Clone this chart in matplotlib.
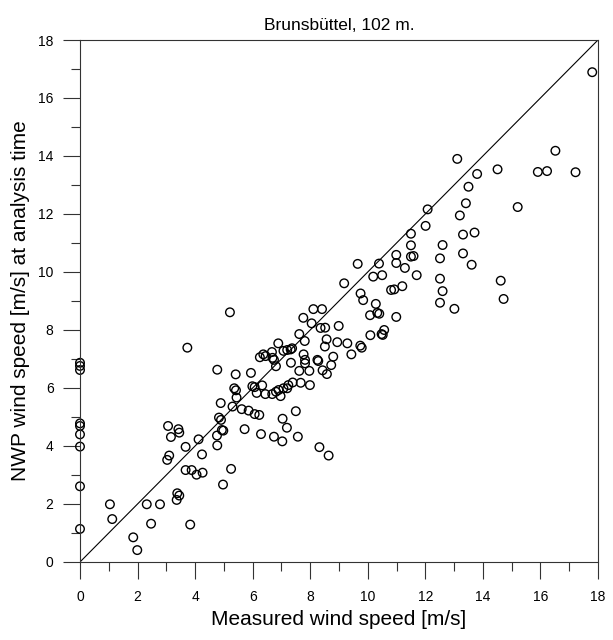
import matplotlib
matplotlib.use("Agg")
import matplotlib.pyplot as plt
from matplotlib.ticker import MultipleLocator

plt.rcParams['font.family'] = ['Liberation Sans', 'DejaVu Sans']

title = "Brunsbüttel, 102 m."
xlabel = "Measured wind speed [m/s]"
ylabel = "NWP wind speed [m/s] at analysis time"

measured = [
    0, 0, 0, 0, 0, 0, 0, 0, 0,
    1.04, 1.12, 1.85, 1.99, 2.32, 2.47, 2.78,
    3.73, 3.06, 3.16, 3.42, 3.45, 3.67, 4.12, 4.24,
    3.10, 3.03, 3.67, 3.88, 4.05, 4.26, 3.38, 3.45, 3.36, 3.83, 4.97, 4.77, 4.76, 4.93, 4.98, 4.83, 4.90, 4.89, 5.25,
    4.77, 5.21,
    5.41, 5.94, 5.36, 5.42, 5.44, 5.30,
    6.33, 5.99, 6.07,
    6.14, 6.44, 6.68, 6.81, 6.90, 6.97, 7.07, 7.24, 7.20, 7.39, 7.67, 7.99,
    5.62, 5.86, 6.07, 6.23,
    5.72, 6.29, 6.74, 7.03, 7.19, 7.04, 7.50, 7.57, 8.32, 8.64,
    6.25, 6.37, 6.45, 6.67, 6.69, 6.74, 6.81, 6.89, 7.07, 7.20, 7.32, 7.37, 7.33,
    7.62, 7.81, 7.76, 8.05, 8.11, 8.41,
    7.77, 7.82, 7.82, 7.62, 7.97, 8.25, 8.58, 8.43,
    8.36, 8.52, 8.99, 8.57, 8.94, 9.29, 8.51, 10.09, 10.48, 10.57, 10.52, 9.74, 9.79, 9.43, 8.80, 8.73, 8.28,
    9.18, 9.65, 9.75, 9.84, 10.19, 10.50, 10.39, 10.81, 10.92, 11.20, 10.28, 10.08, 10.33, 10.40, 10.99,
    10.99, 10.99, 11.29, 11.50, 11.59, 11.70, 11.50, 11.50, 12.01, 12.08,
    12.60, 12.51, 13.31, 13.61, 12.51, 12.60, 12.51, 13.01, 14.62, 14.72,
    13.20, 13.41, 13.50, 13.80, 13.11, 14.51, 15.21, 13.31, 13.71, 15.91, 16.23, 16.52, 17.22, 17.80,
]
nwp = [
    6.87, 6.76, 6.62, 4.78, 4.69, 4.40, 3.98, 2.61, 1.14,
    1.99, 1.48, 0.85, 0.41, 1.99, 1.32, 1.99,
    7.39, 4.69, 4.31, 4.58, 4.46, 3.97, 4.23, 3.71,
    3.67, 3.52, 3.17, 3.17, 3.01, 3.08, 2.37, 2.29, 2.14, 1.29, 2.67, 4.02, 4.36, 4.55, 4.53, 4.98, 4.90, 5.48, 3.21,
    6.63, 8.61,
    6.47, 6.52, 5.99, 5.92, 5.67, 5.36,
    6.09, 6.06, 6.03,
    5.83, 5.79, 5.79, 5.87, 5.93, 5.72, 5.99, 6.10, 5.99, 6.19, 6.18, 6.10,
    5.27, 5.22, 5.10, 5.07,
    4.58, 4.41, 4.32, 4.16, 4.63, 4.94, 5.20, 4.32, 3.96, 3.67,
    7.06, 7.16, 7.10, 7.24, 7.04, 6.97, 6.75, 7.54, 7.28, 7.31, 7.33, 7.37, 6.87,
    7.86, 7.62, 8.42, 8.23, 8.72, 8.72,
    7.16, 6.97, 6.85, 6.59, 6.59, 6.97, 6.48, 6.61,
    8.07, 8.08, 8.14, 7.68, 7.58, 7.54, 7.43, 7.82, 7.86, 8.00, 7.83, 7.46, 7.39, 7.16, 7.08, 6.79, 6.93,
    9.61, 10.28, 9.26, 9.03, 9.84, 9.89, 10.29, 9.38, 9.40, 9.51, 8.90, 8.51, 8.59, 8.56, 8.45,
    10.59, 10.31, 10.14, 10.53, 10.55, 9.89, 11.32, 10.92, 11.59, 12.16,
    10.93, 10.47, 10.64, 10.25, 9.77, 9.34, 8.94, 8.73, 9.70, 9.07,
    11.95, 12.37, 12.94, 13.38, 13.90, 13.54, 12.24, 11.29, 11.36, 13.45, 13.48, 14.18, 13.44, 16.89,
]
diag = [0, 18]

fig = plt.figure(figsize=(6.13, 6.40), dpi=100)
ax = fig.add_axes([0.1305, 0.1219, 0.8450, 0.8156])

ax.plot(diag, diag, color='black', lw=0.8, zorder=1)
ax.scatter(measured, nwp, s=38, facecolors='none', edgecolors='black', linewidths=1.0, zorder=2, clip_on=False)

ax.set_xlim(0, 18)
ax.set_ylim(0, 18)
ax.xaxis.set_major_locator(MultipleLocator(2))
ax.xaxis.set_minor_locator(MultipleLocator(1))
ax.yaxis.set_major_locator(MultipleLocator(2))
ax.yaxis.set_minor_locator(MultipleLocator(1))
ax.tick_params(which='major', direction='out', length=12.5, width=0.8, color='#333333',
               labelsize=10)
ax.tick_params(axis='x', which='major', pad=8)
ax.tick_params(axis='y', which='major', pad=6.5)
ax.tick_params(which='minor', direction='out', length=6.3, width=0.8, color='#333333')
ax.tick_params(top=False, right=False)
for sp in ax.spines.values():
    sp.set_linewidth(0.8)
    sp.set_color('#333333')

ax.set_xlabel(xlabel, fontsize=15, labelpad=4)
ax.set_ylabel(ylabel, fontsize=15, labelpad=6)
ax.set_title(title, fontsize=12.5, pad=7)

fig.savefig("out.png", dpi=100)
